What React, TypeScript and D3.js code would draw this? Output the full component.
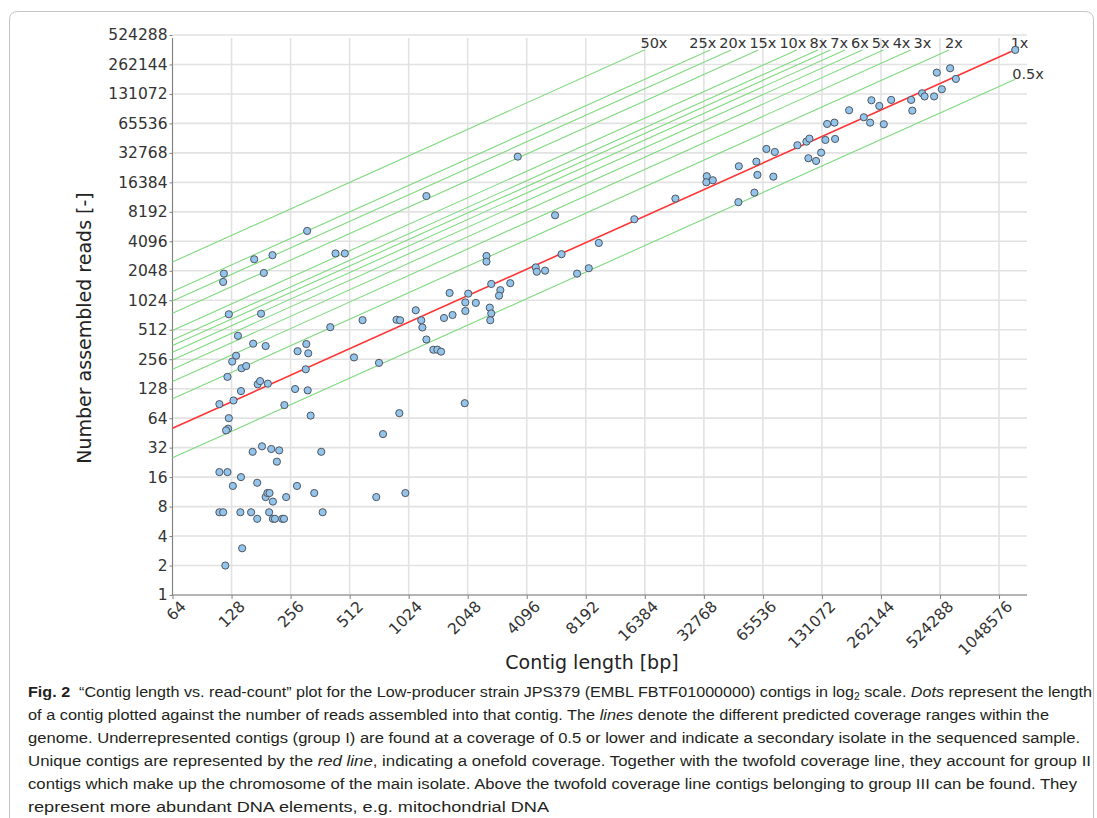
import * as d3 from 'd3';
import { useEffect, useRef } from 'react';

// contig length [bp] and number of assembled reads
const contigLengths = [
    111, 131, 143, 124, 123, 120, 174, 179, 196, 238, 270, 313, 324, 164, 183, 204, 224, 218, 367, 111,
    122, 143, 130, 173, 191, 195, 200, 208, 243, 276, 338, 111, 116, 142, 161, 173, 199, 208, 213, 232,
    237, 373, 145, 119, 918, 758, 700, 985, 117, 116, 167, 207, 187, 311, 434, 484, 124, 181, 138, 165,
    191, 135, 129, 144, 152, 122, 278, 308, 315, 306, 408, 596, 539, 723, 888, 926, 3687, 1261, 1113, 1187,
    1203, 1261, 1551, 1714, 1656, 1991, 2061, 2253, 1992, 2554, 2554, 2700, 2654, 2700, 2669, 3005, 2959, 3376, 4555, 4608,
    5080, 5713, 6165, 1368, 1434, 1498, 1978, 7399, 8487, 9545, 14483, 23463, 33915, 33751, 36405, 49390, 49150, 60720, 61440, 59310,
    68290, 75370, 74120, 98240, 109240, 113180, 111800, 122380, 129850, 136540, 153000, 139340, 151800, 180350, 214300, 230800, 271000, 234360, 257000, 295500,
    373550, 378800, 424900, 437500, 489200, 535800, 505100, 590300, 631700, 1268000,
];
const assembledReads = [
    89, 97, 121, 64, 50, 48, 142, 153, 144, 87, 127, 123, 68, 29, 33, 31, 30, 23, 29, 18,
    18, 16, 13, 14, 10, 11, 11, 9, 10, 13, 11, 7, 7, 7, 7, 6, 7, 6, 6, 6,
    6, 7, 3, 2, 72, 44, 10, 11, 1915, 1575, 2686, 2957, 1946, 5228, 3079, 3079, 737, 747, 444, 369,
    349, 278, 242, 207, 218, 169, 309, 366, 294, 202, 544, 641, 267, 235, 647, 640, 30010, 11878, 809, 640,
    540, 407, 675, 724, 1216, 973, 1196, 962, 796, 2902, 2538, 1502, 861, 751, 640, 1299, 1141, 1530, 2218, 2002,
    2055, 7561, 3028, 320, 320, 306, 91, 1915, 2174, 3941, 6884, 11181, 18940, 16430, 17220, 23937, 10289, 26673, 19530, 12862,
    35946, 33500, 18745, 39220, 42700, 45830, 28900, 27120, 32970, 44440, 45490, 64720, 66760, 89330, 75760, 66760, 64300, 113000, 98830, 113900,
    113900, 88540, 133300, 123670, 123670, 146400, 216400, 239900, 186700, 369000,
];

// predicted coverage lines (1x is the red one)
const coverages = [0.5, 1, 2, 3, 4, 5, 6, 7, 8, 10, 15, 20, 25, 50];
const coverageSlope = 0.9; // slope of the lines in the log-log plot
const readsAt64bp = 50.4; // 1x line at the left edge

const xTickValues = d3.range(6, 21).map((p) => 2 ** p);
const yTickValues = d3.range(0, 20).map((p) => 2 ** p);
const xMax = 1456000;

const xTitle = 'Contig length [bp]';
const yTitle = 'Number assembled reads [-]';

const captionLines = [
    [
        { t: 'Fig. 2', b: true },
        { t: '  \u201cContig length vs. read-count\u201d plot for the Low-producer strain JPS379 (EMBL FBTF01000000) contigs in log' },
        { t: '2', sub: true },
        { t: ' scale. ' },
        { t: 'Dots', i: true },
        { t: ' represent the length' },
    ],
    [
        { t: 'of a contig plotted against the number of reads assembled into that contig. The ' },
        { t: 'lines', i: true },
        { t: ' denote the different predicted coverage ranges within the' },
    ],
    [{ t: 'genome. Underrepresented contigs (group I) are found at a coverage of 0.5 or lower and indicate a secondary isolate in the sequenced sample.' }],
    [
        { t: 'Unique contigs are represented by the ' },
        { t: 'red line', i: true },
        { t: ', indicating a onefold coverage. Together with the twofold coverage line, they account for group II' },
    ],
    [{ t: 'contigs which make up the chromosome of the main isolate. Above the twofold coverage line contigs belonging to group III can be found. They' }],
    [{ t: 'represent more abundant DNA elements, e.g. mitochondrial DNA' }],
];
const captionEnds = [1092, 1049, 1080, 1091, 1077, 549];

const App = () => {
    const svgRef = useRef(null);

    useEffect(() => {
        const width = 1097;
        const height = 818;
        const svg = d3.select(svgRef.current);
        svg.selectAll('*').remove();
        svg.attr('width', width).attr('height', height);

        const font = "'DejaVu Sans', Verdana, sans-serif";
        const x = d3.scaleLog().base(2).domain([64, xMax]).range([172.5, 1027]);
        const y = d3.scaleLog().base(2).domain([1, 524288]).range([595, 35]);

        // frame round figure + caption
        svg.append('path')
            .attr('d', 'M9.5,818 V20 Q9.5,11.5 18,11.5 H1085 Q1093.5,11.5 1093.5,20 V818')
            .attr('fill', 'none')
            .attr('stroke', '#c4c4c4');

        // grid
        svg.append('g')
            .selectAll('line')
            .data(yTickValues)
            .enter()
            .append('line')
            .attr('x1', x(64))
            .attr('x2', x(xMax))
            .attr('y1', (d) => y(d))
            .attr('y2', (d) => y(d))
            .attr('stroke', '#e2e2e2')
            .attr('stroke-width', 1.6);
        svg.append('g')
            .selectAll('line')
            .data(xTickValues)
            .enter()
            .append('line')
            .attr('x1', (d) => x(d))
            .attr('x2', (d) => x(d))
            .attr('y1', 38)
            .attr('y2', y(1))
            .attr('stroke', '#e2e2e2')
            .attr('stroke-width', 1.6);

        // axes
        const yAxis = svg
            .append('g')
            .attr('transform', `translate(${x(64)},0)`)
            .call(d3.axisLeft(y).tickValues(yTickValues).tickFormat(d3.format('d')).tickSize(3).tickPadding(2));
        yAxis.select('.domain').attr('d', `M0,38V${y(1)}`).attr('stroke', '#808080');
        yAxis.selectAll('.tick line').attr('stroke', '#808080');
        yAxis.selectAll('.tick text').attr('font-family', font).attr('font-size', 15.5).attr('fill', '#333');

        const xAxis = svg
            .append('g')
            .attr('transform', `translate(0,${y(1)})`)
            .call(d3.axisBottom(x).tickValues(xTickValues).tickFormat(d3.format('d')).tickSize(4));
        xAxis.select('.domain').attr('d', `M${x(64)},0H${x(xMax)}`).attr('stroke', '#808080');
        xAxis.selectAll('.tick line').attr('stroke', '#808080');
        xAxis
            .selectAll('.tick text')
            .attr('font-family', font)
            .attr('font-size', 15.5)
            .attr('fill', '#333')
            .attr('text-anchor', 'end')
            .attr('x', 0)
            .attr('y', 0)
            .attr('dy', 0)
            .attr('transform', 'translate(14,12.5) rotate(-45)');
        svg.selectAll('.domain').attr('fill', 'none');
        svg.selectAll('.tick text').attr('font-family', font);

        // axis titles
        svg.append('text')
            .attr('x', 592)
            .attr('y', 669)
            .attr('text-anchor', 'middle')
            .attr('font-family', font)
            .attr('font-size', 19)
            .attr('fill', '#222')
            .text(xTitle);
        svg.append('text')
            .attr('transform', 'translate(91,328) rotate(-90)')
            .attr('text-anchor', 'middle')
            .attr('font-family', font)
            .attr('font-size', 19)
            .attr('fill', '#222')
            .text(yTitle);

        // coverage lines
        const maxLen = d3.max(contigLengths);
        const maxReads = d3.max(assembledReads);
        const coverageAt = (c, len) => c * readsAt64bp * Math.pow(len / 64, coverageSlope);
        const lines = coverages.map((c) => {
            const capLen = 64 * Math.pow(maxReads / (c * readsAt64bp), 1 / coverageSlope);
            const endLen = Math.min(maxLen, capLen);
            return {
                c,
                label: `${c}x`,
                top: capLen <= maxLen,
                pts: [
                    [64, coverageAt(c, 64)],
                    [endLen, coverageAt(c, endLen)],
                ],
            };
        });
        const line = d3
            .line()
            .x((d) => x(d[0]))
            .y((d) => y(d[1]));
        svg.append('g')
            .selectAll('path')
            .data(lines.filter((l) => l.c !== 1))
            .enter()
            .append('path')
            .attr('d', (d) => line(d.pts))
            .attr('fill', 'none')
            .attr('stroke', '#7fda7f')
            .attr('stroke-width', 1.1);
        svg.append('path')
            .attr('d', line(lines.find((l) => l.c === 1).pts))
            .attr('fill', 'none')
            .attr('stroke', '#ff3434')
            .attr('stroke-width', 1.6);

        // line labels, pushed apart where they would overlap
        const labelSize = 14.5;
        const textW = (s) => d3.sum(s.split(''), (ch) => (ch === '.' ? 0.318 : ch === 'x' ? 0.592 : 0.636)) * labelSize;
        const topRow = lines
            .filter((l) => l.top)
            .map((l) => ({ ...l, want: x(l.pts[1][0]) - 4, w: textW(l.label) }))
            .sort((a, b) => a.want - b.want);
        const gap = 3;
        const clusters = [];
        topRow.forEach((lab) => {
            let cur = { items: [lab], offs: [0], width: lab.w, sum: lab.want, n: 1 };
            while (clusters.length) {
                const prev = clusters[clusters.length - 1];
                const prevStart = prev.sum / prev.n;
                const curStart = cur.sum / cur.n;
                if (prevStart + prev.width + gap <= curStart) break;
                clusters.pop();
                const shift = prev.width + gap;
                cur = {
                    items: prev.items.concat(cur.items),
                    offs: prev.offs.concat(cur.offs.map((o) => o + shift)),
                    width: prev.width + gap + cur.width,
                    sum: prev.sum + cur.sum - cur.n * shift,
                    n: prev.n + cur.n,
                };
            }
            clusters.push(cur);
        });
        const placed = [];
        clusters.forEach((cl) => {
            const start = cl.sum / cl.n;
            cl.items.forEach((it, i) => placed.push({ label: it.label, lx: start + cl.offs[i], ly: y(it.pts[1][1]) - 2 }));
        });
        lines
            .filter((l) => !l.top)
            .forEach((l) => placed.push({ label: l.label, lx: x(l.pts[1][0]) - 3, ly: y(l.pts[1][1]) }));
        svg.append('g')
            .selectAll('text')
            .data(placed)
            .enter()
            .append('text')
            .attr('x', (d) => d.lx)
            .attr('y', (d) => d.ly)
            .attr('font-family', font)
            .attr('font-size', labelSize)
            .attr('fill', '#333')
            .text((d) => d.label);

        // contigs
        const pts = contigLengths.map((len, i) => ({ len, reads: assembledReads[i] }));
        svg.append('g')
            .selectAll('circle')
            .data(pts)
            .enter()
            .append('circle')
            .attr('cx', (d) => x(d.len))
            .attr('cy', (d) => y(d.reads))
            .attr('r', 3.6)
            .attr('fill', '#92c4ec')
            .attr('stroke', '#4f5660')
            .attr('stroke-width', 1);

        // caption
        const cap = svg.append('g').attr('font-family', "'Liberation Sans Narrow', 'Liberation Sans', sans-serif").attr('font-size', 15.5).attr('fill', '#231f20');
        captionLines.forEach((segs, i) => {
            const t = cap
                .append('text')
                .attr('x', 28)
                .attr('y', 697 + 23 * i)
                .attr('textLength', captionEnds[i] - 28)
                .attr('lengthAdjust', 'spacingAndGlyphs')
                .style('white-space', 'pre');
            segs.forEach((s) => {
                const ts = t.append('tspan').text(s.t);
                if (s.b) ts.attr('font-weight', 'bold');
                if (s.i) ts.attr('font-style', 'italic');
                if (s.sub) ts.attr('font-size', 10).attr('baseline-shift', '-3');
            });
        });
    }, []);

    return <svg ref={svgRef} style={{ position: 'absolute', left: 0, top: 0 }} />;
};

export default App;
